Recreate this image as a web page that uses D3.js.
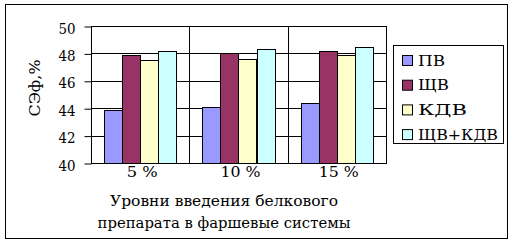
<!DOCTYPE html>
<html>
<head>
<meta charset="utf-8">
<script src="https://cdn.jsdelivr.net/npm/d3@7"></script>
<style>
body { margin: 0; background: #fff; }
</style>
</head>
<body>
<svg id="chart" width="514" height="243"></svg>
<script>
// data
var categories = ['5 %', '10 %', '15 %'];
var seriesNames = ['ПВ', 'ЩВ', 'КДВ', 'ЩВ+КДВ'];
var seriesColors = ['#9999ff', '#993366', '#ffffcc', '#ccffff'];
var pvValues = [43.9, 44.1, 44.35];
var shchvValues = [47.85, 48.0, 48.15];
var kdvValues = [47.5, 47.6, 47.85];
var shchvKdvValues = [48.15, 48.3, 48.5];
var yTicks = [40, 42, 44, 46, 48, 50];
var seriesValues = [pvValues, shchvValues, kdvValues, shchvKdvValues];

var svg = d3.select('#chart');
var serif = "'DejaVu Serif'";

// stretch a text to the width it has in the original
function fitWidth(sel, w){
    sel.attr('textLength', w).attr('lengthAdjust', 'spacingAndGlyphs');
}

// outer frame
svg.append('rect')
    .attr('x', 5.5).attr('y', 4.5)
    .attr('width', 502).attr('height', 234)
    .attr('fill', '#fff').attr('stroke', '#000').attr('stroke-width', 1);

var plotL = 91, plotR = 386, plotT = 26, plotB = 163;

var x = d3.scaleBand().domain(categories).range([plotL, plotR]);
var xs = d3.scaleBand().domain(d3.range(seriesNames.length))
    .range([0, x.bandwidth()]).paddingOuter(0.72);  // groups sit in the middle
var y = d3.scaleLinear().domain([40, 50]).range([plotB, plotT]);

var g = svg.append('g');

// plot frame
g.append('rect')
    .attr('x', plotL + 0.5).attr('y', plotT + 0.5)
    .attr('width', plotR - plotL).attr('height', plotB - plotT)
    .attr('fill', '#fff').attr('stroke', '#000');

// gridlines
g.selectAll('.grid').data(yTicks).enter().append('line')
    .attr('x1', plotL).attr('x2', plotR)
    .attr('y1', function(d){ return Math.round(y(d)) + 0.5; })
    .attr('y2', function(d){ return Math.round(y(d)) + 0.5; })
    .attr('stroke', '#000');

// category dividers
g.selectAll('.div').data(categories.slice(1)).enter().append('line')
    .attr('x1', function(d){ return Math.round(x(d)) + 0.5; })
    .attr('x2', function(d){ return Math.round(x(d)) + 0.5; })
    .attr('y1', plotT).attr('y2', plotB)
    .attr('stroke', '#000');

// bars
seriesValues.forEach(function(vals, si){
    g.selectAll('.bar' + si).data(vals).enter().append('rect')
        .attr('x', function(d, i){ return Math.round(x(categories[i]) + xs(si)) + 0.5; })
        .attr('y', function(d){ return Math.round(y(d)) + 0.5; })
        .attr('width', Math.round(xs.bandwidth()))
        .attr('height', function(d){ return Math.round(y(40)) - Math.round(y(d)); })
        .attr('fill', seriesColors[si])
        .attr('stroke', '#000');
});

// y axis
var yAxis = d3.axisLeft(y).tickValues(yTicks).tickSize(7).tickPadding(9);
var ya = svg.append('g').attr('transform', 'translate(' + (plotL + 0.5) + ',0.5)').call(yAxis);
ya.attr('font-family', serif).attr('font-size', 14.5);
ya.select('.domain').remove();
ya.selectAll('line').attr('stroke', '#000');
ya.selectAll('text').attr('dy', '0.45em').call(fitWidth, 17);
ya.append('line').attr('x1', 0).attr('x2', 0).attr('y1', plotT).attr('y2', plotB).attr('stroke', '#000');

// x labels
var xl = svg.selectAll('.xlab').data(categories).enter().append('text')
    .attr('x', function(d){ return x(d) + x.bandwidth() / 2 + 2; })
    .attr('y', 177)
    .attr('text-anchor', 'middle')
    .attr('font-size', 14.5)
    .text(function(d){ return d; });
fitWidth(xl, function(d){ return d.length > 3 ? 40 : 31; });

// axis titles
svg.append('text')
    .attr('transform', 'translate(40,88) rotate(-90)')
    .attr('text-anchor', 'middle')
    .attr('font-size', 15.5)
    .text('СЭф,%')
    .call(fitWidth, 57);

svg.append('text').attr('x', 224).attr('y', 206).attr('text-anchor', 'middle')
    .attr('font-size', 14.5).text('Уровни введения белкового')
    .call(fitWidth, 228);
svg.append('text').attr('x', 224).attr('y', 228).attr('text-anchor', 'middle')
    .attr('font-size', 14.5).text('препарата в фаршевые системы')
    .call(fitWidth, 253);

// legend
var legendWidths = [27, 31, 49, 80];
var leg = svg.append('g');
leg.append('rect').attr('x', 393.5).attr('y', 45.5).attr('width', 110).attr('height', 98)
    .attr('fill', '#fff').attr('stroke', '#000');
var items = leg.selectAll('.item').data(seriesNames).enter().append('g')
    .attr('transform', function(d, i){ return 'translate(402,' + (60 + i * 24.7) + ')'; });
items.append('rect').attr('x', 0.5).attr('y', -4.5).attr('width', 10).attr('height', 10)
    .attr('fill', function(d, i){ return seriesColors[i]; }).attr('stroke', '#000');
items.append('text').attr('x', 16).attr('y', 0).attr('dy', '0.38em')
    .attr('font-size', 14.5).text(function(d){ return d; })
    .call(fitWidth, function(d, i){ return legendWidths[i]; });

svg.selectAll('text').style('font-family', serif).style('fill', '#000');
</script>
</body>
</html>
